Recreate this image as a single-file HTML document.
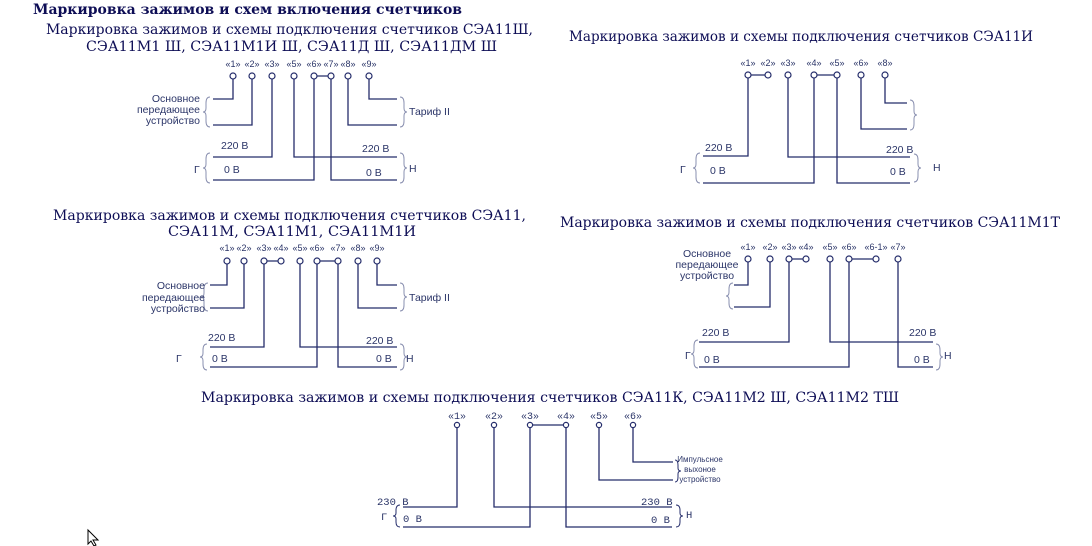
<!DOCTYPE html>
<html><head><meta charset="utf-8"><style>
html,body{margin:0;padding:0;background:#fff;}
svg{display:block;}
.h{font-family:"DejaVu Serif","Liberation Serif",serif;font-size:14px;fill:#0d0d55;}
.t{font-family:"DejaVu Serif","Liberation Serif",serif;font-size:14px;font-weight:bold;fill:#0d0d55;}
.l{font-family:"Liberation Sans",Arial,sans-serif;font-size:9px;fill:#2b3568;}
.s{font-family:"Liberation Sans",Arial,sans-serif;font-size:10.5px;fill:#2b3568;}
.m{font-family:"Liberation Mono","DejaVu Sans Mono",monospace;font-size:10.5px;fill:#2b3568;}
.w{stroke:#252d6b;stroke-width:1.3;fill:none;}
.c{stroke:#252d6b;stroke-width:1.2;fill:#fff;}
.b{stroke:#8a90b0;stroke-width:1;fill:none;}
</style></head><body>
<svg width="1092" height="546" viewBox="0 0 1092 546" xmlns="http://www.w3.org/2000/svg">
<text class="t" x="33" y="14" textLength="429" lengthAdjust="spacingAndGlyphs">Маркировка зажимов и схем включения счетчиков</text>
<text class="h" x="46" y="34" textLength="487" lengthAdjust="spacingAndGlyphs">Маркировка зажимов и схемы подключения счетчиков СЭА11Ш,</text>
<text class="h" x="86" y="51" textLength="411" lengthAdjust="spacingAndGlyphs">СЭА11М1 Ш, СЭА11М1И Ш, СЭА11Д Ш, СЭА11ДМ Ш</text>
<text class="h" x="569" y="41" textLength="464" lengthAdjust="spacingAndGlyphs">Маркировка зажимов и схемы подключения счетчиков СЭА11И</text>
<text class="h" x="53" y="220" textLength="473" lengthAdjust="spacingAndGlyphs">Маркировка зажимов и схемы подключения счетчиков СЭА11,</text>
<text class="h" x="168" y="236" textLength="248" lengthAdjust="spacingAndGlyphs">СЭА11М, СЭА11М1, СЭА11М1И</text>
<text class="h" x="560" y="227" textLength="500" lengthAdjust="spacingAndGlyphs">Маркировка зажимов и схемы подключения счетчиков СЭА11М1Т</text>
<text class="h" x="201" y="402" textLength="698" lengthAdjust="spacingAndGlyphs">Маркировка зажимов и схемы подключения счетчиков СЭА11К, СЭА11М2 Ш, СЭА11М2 ТШ</text>

<!-- Diagram 1 -->
<g>
<path class="w" d="M233 79V99H213 M252 79V125H213 M272 79V157H213 M294 79V157H397 M314 79V180H213 M331 79V180H397 M348 79V125H397 M369 79V99H397 M314 76H331"/>
<g class="c"><circle cx="233" cy="76" r="3"/><circle cx="252" cy="76" r="3"/><circle cx="272" cy="76" r="3"/><circle cx="294" cy="76" r="3"/><circle cx="314" cy="76" r="3"/><circle cx="331" cy="76" r="3"/><circle cx="348" cy="76" r="3"/><circle cx="369" cy="76" r="3"/></g>
<g class="l" text-anchor="middle"><text x="233" y="67">«1»</text><text x="252" y="67">«2»</text><text x="272" y="67">«3»</text><text x="294" y="67">«5»</text><text x="314" y="67">«6»</text><text x="331" y="67">«7»</text><text x="348" y="67">«8»</text><text x="369" y="67">«9»</text></g>
<path class="b" d="M210 97Q206 97 206 103V108Q206 112 203 112Q206 112 206 116V121Q206 127 210 127"/>
<path class="b" d="M400 97Q404 97 404 103V108Q404 112 407 112Q404 112 404 116V121Q404 127 400 127"/>
<path class="b" d="M210 153Q206 153 206 159V164Q206 168 203 168Q206 168 206 172V177Q206 183 210 183"/>
<path class="b" d="M400 153Q404 153 404 159V164Q404 168 407 168Q404 168 404 172V177Q404 183 400 183"/>
<g class="s" text-anchor="end"><text x="200" y="102">Основное</text><text x="200" y="113">передающее</text><text x="200" y="124">устройство</text></g>
<text class="s" x="409" y="115">Тариф II</text>
<text class="s" x="221" y="149">220 В</text><text class="s" x="224" y="173">0 В</text>
<text class="s" x="362" y="152">220 В</text><text class="s" x="366" y="176">0 В</text>
<text class="s" x="194" y="173">Г</text><text class="s" x="409" y="172">Н</text>
</g>

<!-- Diagram 2 -->
<g>
<path class="w" d="M748 78V156H703 M788 78V157H910 M814 78V183H703 M837 78V183H910 M861 78V129H907 M885 78V103H907 M748 75H768 M814 75H837"/>
<g class="c"><circle cx="748" cy="75" r="3"/><circle cx="768" cy="75" r="3"/><circle cx="788" cy="75" r="3"/><circle cx="814" cy="75" r="3"/><circle cx="837" cy="75" r="3"/><circle cx="861" cy="75" r="3"/><circle cx="885" cy="75" r="3"/></g>
<g class="l" text-anchor="middle"><text x="748" y="66">«1»</text><text x="768" y="66">«2»</text><text x="788" y="66">«3»</text><text x="814" y="66">«4»</text><text x="837" y="66">«5»</text><text x="861" y="66">«6»</text><text x="885" y="66">«8»</text></g>
<path class="b" d="M910 100Q914 100 914 106V111Q914 115 917 115Q914 115 914 119V124Q914 130 910 130"/>
<path class="b" d="M700 153Q696 153 696 159V164Q696 168 693 168Q696 168 696 172V177Q696 183 700 183"/>
<path class="b" d="M914 154Q918 154 918 160V164Q918 168 921 168Q918 168 918 172V176Q918 182 914 182"/>
<text class="s" x="705" y="151">220 В</text><text class="s" x="710" y="174">0 В</text>
<text class="s" x="886" y="153">220 В</text><text class="s" x="890" y="175">0 В</text>
<text class="s" x="680" y="173">Г</text><text class="s" x="933" y="171">Н</text>
</g>

<!-- Diagram 3 -->
<g>
<path class="w" d="M227 264V285H210 M244 264V308H210 M264 264V347H210 M300 264V347H397 M317 264V367H210 M338 264V367H397 M358 264V308H397 M377 264V285H397 M264 261H281 M317 261H338"/>
<g class="c"><circle cx="227" cy="261" r="3"/><circle cx="244" cy="261" r="3"/><circle cx="264" cy="261" r="3"/><circle cx="281" cy="261" r="3"/><circle cx="300" cy="261" r="3"/><circle cx="317" cy="261" r="3"/><circle cx="338" cy="261" r="3"/><circle cx="358" cy="261" r="3"/><circle cx="377" cy="261" r="3"/></g>
<g class="l" text-anchor="middle"><text x="227" y="251">«1»</text><text x="244" y="251">«2»</text><text x="264" y="251">«3»</text><text x="281" y="251">«4»</text><text x="300" y="251">«5»</text><text x="317" y="251">«6»</text><text x="338" y="251">«7»</text><text x="358" y="251">«8»</text><text x="377" y="251">«9»</text></g>
<path class="b" d="M208 283Q204 283 204 289V293Q204 297 201 297Q204 297 204 301V305Q204 311 208 311"/>
<path class="b" d="M400 283Q404 283 404 289V293Q404 297 407 297Q404 297 404 301V305Q404 311 400 311"/>
<path class="b" d="M207 344Q203 344 203 350V353Q203 357 200 357Q203 357 203 361V364Q203 370 207 370"/>
<path class="b" d="M400 344Q404 344 404 350V353Q404 357 407 357Q404 357 404 361V364Q404 370 400 370"/>
<g class="s" text-anchor="end"><text x="205" y="289">Основное</text><text x="205" y="301">передающее</text><text x="205" y="312">устройство</text></g>
<text class="s" x="409" y="301">Тариф II</text>
<text class="s" x="208" y="341">220 В</text><text class="s" x="212" y="362">0 В</text>
<text class="s" x="366" y="344">220 В</text><text class="s" x="376" y="362">0 В</text>
<text class="s" x="176" y="362">Г</text><text class="s" x="406" y="362">Н</text>
</g>

<!-- Diagram 4 -->
<g>
<path class="w" d="M748 262V285H734 M770 262V307H734 M789 262V342H699 M830 262V342H933 M849 262V367H699 M898 262V367H933 M789 259H806 M849 259H876"/>
<g class="c"><circle cx="748" cy="259" r="3"/><circle cx="770" cy="259" r="3"/><circle cx="789" cy="259" r="3"/><circle cx="806" cy="259" r="3"/><circle cx="830" cy="259" r="3"/><circle cx="849" cy="259" r="3"/><circle cx="876" cy="259" r="3"/><circle cx="898" cy="259" r="3"/></g>
<g class="l" text-anchor="middle"><text x="748" y="250">«1»</text><text x="770" y="250">«2»</text><text x="789" y="250">«3»</text><text x="806" y="250">«4»</text><text x="830" y="250">«5»</text><text x="849" y="250">«6»</text><text x="876" y="250">«6-1»</text><text x="898" y="250">«7»</text></g>
<path class="b" d="M733 283Q729 283 729 289V292Q729 296 726 296Q729 296 729 300V303Q729 309 733 309"/>
<path class="b" d="M698 340Q694 340 694 346V350Q694 354 691 354Q694 354 694 358V362Q694 368 698 368"/>
<path class="b" d="M936 344Q940 344 940 350V353Q940 357 943 357Q940 357 940 361V364Q940 370 936 370"/>
<g class="s" text-anchor="middle"><text x="707" y="257">Основное</text><text x="707" y="268">передающее</text><text x="707" y="279">устройство</text></g>
<text class="s" x="702" y="336">220 В</text><text class="s" x="704" y="363">0 В</text>
<text class="s" x="909" y="336">220 В</text><text class="s" x="914" y="363">0 В</text>
<text class="s" x="685" y="359">Г</text><text class="s" x="944" y="359">Н</text>
</g>

<!-- Diagram 5 -->
<g>
<path class="w" d="M457 428V507H403 M494 428V507H672 M530 428V527H403 M566 428V527H672 M599 428V480H673 M633 428V462H673 M530 425H566"/>
<g class="c"><circle cx="457" cy="425" r="2.6"/><circle cx="494" cy="425" r="2.6"/><circle cx="530" cy="425" r="2.6"/><circle cx="566" cy="425" r="2.6"/><circle cx="599" cy="425" r="2.6"/><circle cx="633" cy="425" r="2.6"/></g>
<g class="m" text-anchor="middle" style="font-size:10px"><text x="457" y="419">«1»</text><text x="494" y="419">«2»</text><text x="530" y="419">«3»</text><text x="566" y="419">«4»</text><text x="599" y="419">«5»</text><text x="633" y="419">«6»</text></g>
<path class="b" style="stroke:#252d6b" d="M675 460Q678 460 678 465V468Q678 471 681 471Q678 471 678 474V477Q678 482 675 482"/>
<path class="b" style="stroke:#252d6b" d="M400 505Q396 505 396 510V513Q396 516 393 516Q396 516 396 519V522Q396 527 400 527"/>
<path class="b" style="stroke:#252d6b" d="M676 505Q680 505 680 510V513Q680 516 683 516Q680 516 680 519V522Q680 527 676 527"/>
<g class="l" style="font-size:8px" text-anchor="middle"><text x="700" y="462">Импульсное</text><text x="700" y="472">выхоное</text><text x="700" y="482">устройство</text></g>
<text class="m" x="377" y="505">230 В</text><text class="m" x="403" y="522">0 В</text>
<text class="m" x="641" y="505">230 В</text><text class="m" x="651" y="523">0 В</text>
<text class="m" x="381" y="520">Г</text><text class="m" x="686" y="518">Н</text>
</g>

<!-- cursor -->
<path d="M88 530V544L91 541L94 546L96 545L93 540L98 540Z" fill="#fff" stroke="#000" stroke-width="1"/>
</svg>
</body></html>
